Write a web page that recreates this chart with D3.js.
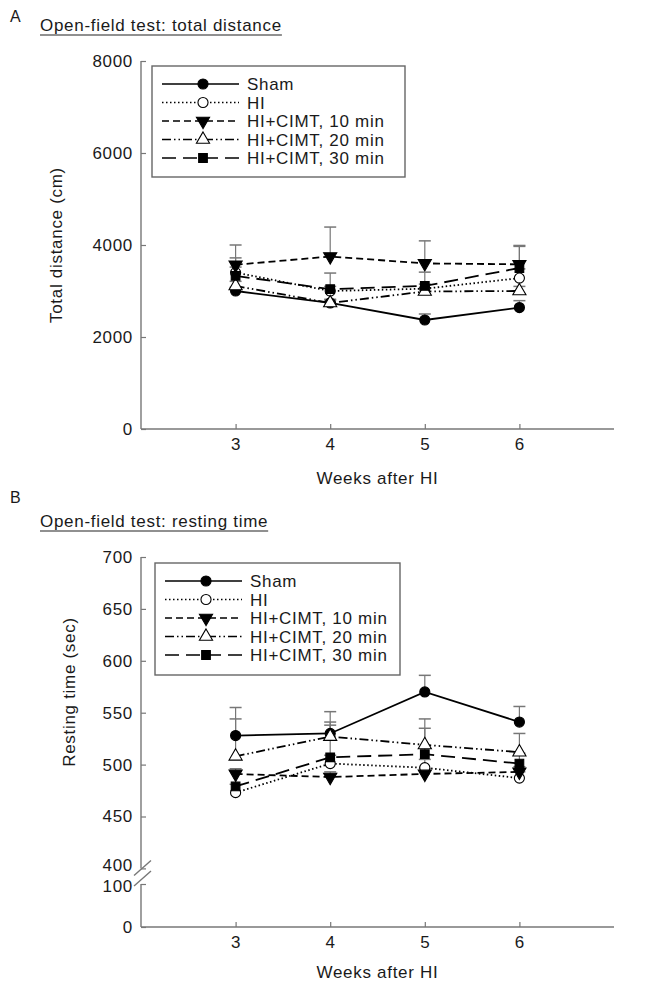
<!DOCTYPE html>
<html>
<head>
<meta charset="utf-8">
<script src="https://cdn.jsdelivr.net/npm/d3@7"></script>
<style>
  body { margin: 0; background: #fff; }
  svg text { font-family: "Liberation Sans", Arial, sans-serif; fill: #1a1a1a; letter-spacing: 0.7px; }
</style>
</head>
<body>
<script>
// --- data
var weeks = [3, 4, 5, 6]
var groups = ['Sham', 'HI', 'HI+CIMT, 10 min', 'HI+CIMT, 20 min', 'HI+CIMT, 30 min']

var distMean = [
    [3000, 2740, 2370, 2640],
    [3400, 3000, 3050, 3280],
    [3570, 3750, 3600, 3580],
    [3110, 2740, 2990, 3000],
    [3330, 3040, 3110, 3500]
]
var distErr = [
    [80, 60, 130, 150],
    [120, 100, 100, 200],
    [430, 640, 490, 410],
    [100, 80, 80, 100],
    [390, 350, 300, 470]
]
var restMean = [
    [528, 530, 570, 541],
    [473, 501, 497, 487],
    [491, 488, 491, 493],
    [508, 527, 519, 512],
    [479, 507, 510, 501]
]
var restErr = [
    [27, 21, 16, 15],
    [8, 8, 8, 6],
    [5, 5, 5, 5],
    [36, 14, 25, 18],
    [15, 31, 25, 10]
]
var distTicks = [0, 2000, 4000, 6000, 8000]
var restTicks = [0, 100, 400, 450, 500, 550, 600, 650, 700]

var dashes = ['none', '1.5,2.5', '7,4', '9,3,1.5,3,1.5,3', '14,7']
var symbols = [
    { type: d3.symbolCircle, fill: '#000', rot: 0, size: 80 },
    { type: d3.symbolCircle, fill: '#fff', rot: 0, size: 80 },
    { type: d3.symbolTriangle, fill: '#000', rot: 180, size: 75 },
    { type: d3.symbolTriangle, fill: '#fff', rot: 0, size: 75 },
    { type: d3.symbolSquare, fill: '#000', rot: 0, size: 75 }
]

var W = 650, H = 984, FS = '17px'
var svg = d3.select('body').append('svg').attr('width', W).attr('height', H)

var x = d3.scaleLinear().domain([2, 7]).range([141, 614])

function marker(g, i, px, py) {
    var s = symbols[i]
    g.append('path')
        .attr('d', d3.symbol().type(s.type).size(s.size)())
        .attr('transform', 'translate(' + px + ',' + py + ') rotate(' + s.rot + ')')
        .attr('fill', s.fill)
        .attr('stroke', '#000')
        .attr('stroke-width', 1.1)
}

function panel(opt) {
    var g = svg.append('g')
    var y = opt.y

    // header
    g.append('text').attr('x', 10).attr('y', opt.letterY).style('font-size', '16px').text(opt.letter)
    var t = g.append('text').attr('x', 40).attr('y', opt.titleY).style('font-size', FS).text(opt.title)
    var tw = t.node().getComputedTextLength()
    g.append('line').attr('x1', 40).attr('x2', 40 + tw)
        .attr('y1', opt.titleY + 4).attr('y2', opt.titleY + 4)
        .attr('stroke', '#222').attr('stroke-width', 1.2)

    // axes
    var y0 = y(0)
    var xa = g.append('g').attr('transform', 'translate(0,' + y0 + ')')
        .call(d3.axisBottom(x).tickValues(weeks).tickSizeInner(-5).tickSizeOuter(0).tickPadding(9).tickFormat(d3.format('d')))
    xa.select('.domain').remove()
    xa.selectAll('line').attr('stroke', '#777').attr('stroke-width', 1.2)
    xa.selectAll('text').style('font-size', FS).attr('fill', '#1a1a1a')
    g.append('line').attr('x1', x(2)).attr('x2', x(7)).attr('y1', y0).attr('y2', y0)
        .attr('stroke', '#777').attr('stroke-width', 1.4)

    var ya = g.append('g').attr('transform', 'translate(' + x(2) + ',0)')
        .call(d3.axisLeft(y).tickValues(opt.ticks).tickSizeInner(-5).tickSizeOuter(0).tickPadding(8).tickFormat(d3.format('d')))
    ya.select('.domain').remove()
    ya.selectAll('line').attr('stroke', '#777').attr('stroke-width', 1.2)
    ya.selectAll('text').style('font-size', FS).attr('fill', '#1a1a1a')
    if (opt.nudge) {
        ya.selectAll('.tick').each(function (d) {
            if (opt.nudge[d] != null) d3.select(this).select('text').attr('y', opt.nudge[d])
        })
    }
    opt.ySegments.forEach(function (s) {
        g.append('line').attr('x1', x(2)).attr('x2', x(2)).attr('y1', y(s[0])).attr('y2', y(s[1]))
            .attr('stroke', '#777').attr('stroke-width', 1.4)
    })

    g.append('text').attr('x', x(4.5)).attr('y', y0 + opt.xlabOff).attr('text-anchor', 'middle')
        .style('font-size', FS).text('Weeks after HI')
    g.append('text').attr('transform', 'translate(' + opt.ylabX + ',' + opt.ylabY + ') rotate(-90)')
        .attr('text-anchor', 'middle').style('font-size', FS).text(opt.ylabel)

    // error bars (upward)
    opt.mean.forEach(function (m, i) {
        m.forEach(function (v, j) {
            var top = y(v + opt.err[i][j])
            g.append('line').attr('x1', x(weeks[j])).attr('x2', x(weeks[j]))
                .attr('y1', y(v)).attr('y2', top).attr('stroke', '#777').attr('stroke-width', 1.2)
            g.append('line').attr('x1', x(weeks[j]) - 6).attr('x2', x(weeks[j]) + 6)
                .attr('y1', top).attr('y2', top).attr('stroke', '#777').attr('stroke-width', 1.5)
        })
    })

    // lines + markers
    var line = d3.line().x(function (d, j) { return x(weeks[j]) }).y(function (d) { return y(d) })
    opt.mean.forEach(function (m, i) {
        g.append('path').datum(m).attr('d', line).attr('fill', 'none')
            .attr('stroke', '#000').attr('stroke-width', 1.8)
            .attr('stroke-dasharray', dashes[i])
    })
    opt.mean.forEach(function (m, i) {
        m.forEach(function (v, j) { marker(g, i, x(weeks[j]), y(v)) })
    })

    // legend
    var L = opt.legend
    g.append('rect').attr('x', L.x).attr('y', L.y).attr('width', L.w).attr('height', L.h)
        .attr('fill', '#fff').attr('stroke', '#666').attr('stroke-width', 1.4)
    groups.forEach(function (name, i) {
        var ry = L.y + 18 + i * 18.5
        g.append('line').attr('x1', L.x + 10).attr('x2', L.x + 87).attr('y1', ry).attr('y2', ry)
            .attr('stroke', '#000').attr('stroke-width', 1.5).attr('stroke-dasharray', dashes[i])
        marker(g, i, L.x + 51, ry)
        g.append('text').attr('x', L.x + 95).attr('y', ry + 6).style('font-size', FS).text(name)
    })
}

// panel A
panel({
    letter: 'A', title: 'Open-field test: total distance', letterY: 22, titleY: 31,
    y: d3.scaleLinear().domain([0, 8000]).range([429, 61]),
    ticks: distTicks, ySegments: [[0, 8000]],
    mean: distMean, err: distErr, xlabOff: 55,
    ylabel: 'Total distance (cm)', ylabX: 62, ylabY: 245,
    legend: { x: 152, y: 66, w: 253, h: 111 }
})

// panel B (broken axis)
var yB = d3.scaleLinear().domain([0, 100, 400, 700]).range([927, 884, 868.4, 557])
panel({
    letter: 'B', title: 'Open-field test: resting time', letterY: 503, titleY: 527,
    y: yB,
    ticks: restTicks, ySegments: [[0, 100], [400, 700]],
    nudge: { 400: -3, 100: 2 },
    mean: restMean, err: restErr, xlabOff: 51,
    ylabel: 'Resting time (sec)', ylabX: 75, ylabY: 692,
    legend: { x: 155, y: 563, w: 245, h: 112 }
})

// break marks
var bx = x(2)
;[yB(400) + 7, yB(100) + 2].forEach(function (by) {
    svg.append('line').attr('x1', bx - 7).attr('x2', bx + 10)
        .attr('y1', by).attr('y2', by - 15)
        .attr('stroke', '#777').attr('stroke-width', 1.4)
})
</script>
</body>
</html>
